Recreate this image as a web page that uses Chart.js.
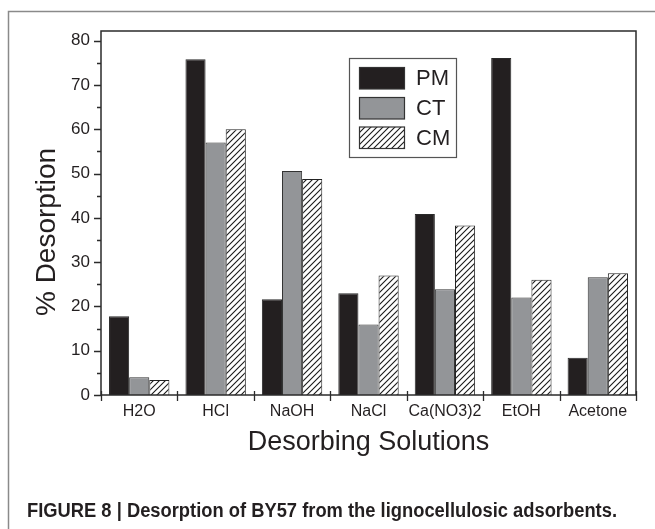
<!DOCTYPE html>
<html><head><meta charset="utf-8">
<script src="https://cdn.jsdelivr.net/npm/chart.js@4.4.0/dist/chart.umd.min.js"></script>
<style>html,body{margin:0;padding:0;background:#fff;overflow:hidden;}</style>
</head><body>
<canvas id="c" width="655" height="529" style="display:block;width:655px;height:529px"></canvas>
<script>
const categories = ['H2O', 'HCl', 'NaOH', 'NaCl', 'Ca(NO3)2', 'EtOH', 'Acetone'];
const seriesNames = ['PM', 'CT', 'CM'];
const pmValues = [17.8, 75.8, 21.6, 23.0, 40.9, 76.1, 8.4];
const ctValues = [4.0, 57.0, 50.6, 15.9, 23.9, 22.0, 26.6];
const cmValues = [3.4, 60.0, 48.8, 27.0, 38.3, 26.0, 27.5];
const yTickValues = [0, 10, 20, 30, 40, 50, 60, 70, 80];
const yMinorStep = 5;
const yMax = 82.2;
const xTitle = 'Desorbing Solutions';
const yTitle = '% Desorption';
const caption = 'FIGURE 8 | Desorption of BY57 from the lignocellulosic adsorbents.';

const FONT = "'Liberation Sans', Arial, Helvetica, sans-serif";
const TEXT = '#231f20';

function hatch() {
  const s = 6;
  const c = document.createElement('canvas');
  c.width = s; c.height = s;
  const g = c.getContext('2d');
  g.fillStyle = '#fff'; g.fillRect(0, 0, s, s);
  g.strokeStyle = '#1a1a1a'; g.lineWidth = 1.1;
  g.beginPath();
  g.moveTo(0, s); g.lineTo(s, 0);
  g.moveTo(-s/2, s/2); g.lineTo(s/2, -s/2);
  g.moveTo(s/2, s*1.5); g.lineTo(s*1.5, s/2);
  g.stroke();
  return g.createPattern(c, 'repeat');
}
const cmPattern = hatch();

const deco = {
  id: 'deco',
  afterDraw(chart) {
    const ctx = chart.ctx, a = chart.chartArea, xs = chart.scales.x, ys = chart.scales.y;
    ctx.save();
    // outer figure frame
    ctx.strokeStyle = '#8a8a8a'; ctx.lineWidth = 1.5;
    ctx.beginPath(); ctx.moveTo(8.5, 529); ctx.lineTo(8.5, 11.5); ctx.lineTo(655, 11.5); ctx.stroke();
    // plot frame
    ctx.strokeStyle = '#2b2b2b'; ctx.lineWidth = 1.5;
    ctx.strokeRect(a.left, a.top, a.right - a.left, a.bottom - a.top);
    // y ticks (major + minor)
    ctx.lineWidth = 1.3;
    ctx.beginPath();
    for (let v = 0; v <= yTickValues[yTickValues.length - 1]; v += yMinorStep) {
      const py = Math.round(ys.getPixelForValue(v)) + 0.5;
      const len = yTickValues.includes(v) ? 7 : 4;
      ctx.moveTo(a.left - len, py); ctx.lineTo(a.left, py);
    }
    // x ticks at category boundaries
    const n = categories.length;
    for (let i = 0; i <= n; i++) {
      let px;
      if (i === 0) px = a.left;
      else if (i === n) px = a.right;
      else px = (xs.getPixelForValue(i - 1) + xs.getPixelForValue(i)) / 2;
      px = Math.round(px) + 0.5;
      ctx.moveTo(px, a.bottom - 4); ctx.lineTo(px, a.bottom + 6);
    }
    ctx.stroke();
    // axis titles
    ctx.fillStyle = TEXT;
    ctx.font = '28px ' + FONT;
    ctx.textAlign = 'center'; ctx.textBaseline = 'alphabetic';
    ctx.save();
    ctx.translate(55, 232); ctx.rotate(-Math.PI / 2);
    ctx.fillText(yTitle, 0, 0);
    ctx.restore();
    ctx.font = '27px ' + FONT;
    ctx.fillText(xTitle, (a.left + a.right) / 2, 450);
    // caption
    ctx.font = "bold 20px 'Liberation Sans Narrow', 'Liberation Sans', Arial, sans-serif";
    ctx.textAlign = 'left';
    const w = ctx.measureText(caption).width;
    const target = 590;
    ctx.save();
    ctx.translate(27, 517);
    ctx.scale(target / w, 1);
    ctx.fillText(caption, 0, 0);
    ctx.restore();
    // legend
    const lx = 349.5, ly = 58.5, lw = 107, lh = 99;
    ctx.fillStyle = '#fff'; ctx.fillRect(lx, ly, lw, lh);
    ctx.strokeStyle = '#555'; ctx.lineWidth = 1.2;
    ctx.strokeRect(lx, ly, lw, lh);
    const rows = [67.5, 97.5, 127];
    ctx.font = '22px ' + FONT; ctx.textBaseline = 'middle'; ctx.textAlign = 'left';
    chart.data.datasets.forEach((ds, i) => {
      const sy = rows[i];
      ctx.fillStyle = ds.backgroundColor;
      ctx.fillRect(359.5, sy, 45, 21.5);
      ctx.strokeStyle = '#333'; ctx.lineWidth = 1.2;
      ctx.strokeRect(359.5, sy, 45, 21.5);
      ctx.fillStyle = TEXT;
      ctx.fillText(ds.label, 416, sy + 11.5);
    });
    ctx.restore();
  }
};

new Chart(document.getElementById('c'), {
  type: 'bar',
  data: {
    labels: categories,
    datasets: [
      { label: seriesNames[0], data: pmValues, backgroundColor: '#231f20', borderColor: '#2a2a2a', borderWidth: 1 },
      { label: seriesNames[1], data: ctValues, backgroundColor: '#939598', borderColor: '#333', borderWidth: 1 },
      { label: seriesNames[2], data: cmValues, backgroundColor: cmPattern, borderColor: '#222', borderWidth: 1 }
    ]
  },
  options: {
    responsive: false,
    animation: false,
    devicePixelRatio: 1,
    layout: { padding: { left: 0, top: 31, right: 19, bottom: 0 } },
    datasets: { bar: { categoryPercentage: 0.79, barPercentage: 1.0 } },
    plugins: { legend: { display: false }, tooltip: { enabled: false } },
    scales: {
      x: {
        offset: true,
        grid: { display: false, drawTicks: false }, border: { display: false },
        ticks: { color: TEXT, font: { family: FONT, size: 16 }, padding: 7, maxRotation: 0, autoSkip: false },
        afterFit(s) { s.height = 134; }
      },
      y: {
        min: 0, max: yMax,
        grid: { display: false, drawTicks: false }, border: { display: false },
        ticks: { stepSize: 10, includeBounds: false, color: TEXT, font: { family: FONT, size: 17 }, padding: 11 },
        afterFit(s) { s.width = 101; }
      }
    }
  },
  plugins: [deco]
});
</script>
</body></html>
